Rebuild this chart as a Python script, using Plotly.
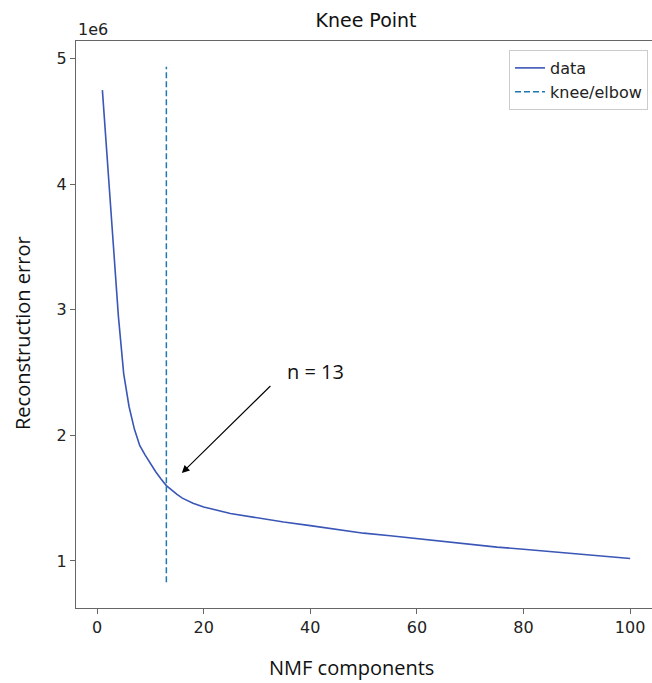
import plotly.graph_objects as go

# Data
components = [1, 2, 3, 4, 5, 6, 7, 8, 9, 10, 11, 12, 13, 15, 16, 18, 20, 25, 30, 35,
              40, 45, 50, 55, 60, 65, 70, 75, 80, 85, 90, 95, 100]
errors = [4.75e6, 4.15e6, 3.55e6, 2.95e6, 2.49e6, 2.23e6, 2.05e6, 1.92e6, 1.845e6, 1.775e6,
          1.71e6, 1.652e6, 1.60e6, 1.53e6, 1.50e6, 1.46e6, 1.43e6, 1.378e6, 1.342e6, 1.31e6,
          1.281e6, 1.248e6, 1.221e6, 1.200e6, 1.178e6, 1.157e6, 1.130e6, 1.110e6, 1.093e6,
          1.075e6, 1.057e6, 1.038e6, 1.019e6]
knee_x = [13, 13]
knee_y = [0.83e6, 4.936e6]
y_tickvals = [1e6, 2e6, 3e6, 4e6, 5e6]
y_ticktext = ["1", "2", "3", "4", "5"]
x_tickvals = [0, 20, 40, 60, 80, 100]

W, H = 652, 683
L, R, T, B = 76, 0, 41, 75

fig = go.Figure()
fig.add_trace(go.Scatter(x=components, y=errors, mode="lines", name="data",
                         line=dict(color="#3a56b6", width=1.6)))
fig.add_trace(go.Scatter(x=knee_x, y=knee_y, mode="lines", name="knee/elbow",
                         line=dict(color="#1f77b4", width=1.5, dash="6px,3px")))

axis_common = dict(showgrid=False, zeroline=False, showline=True, linecolor="#666666",
                   linewidth=1, ticks="outside", ticklen=5, tickcolor="#666666",
                   tickfont=dict(family="DejaVu Sans", size=16, color="#222222"))

fig.update_xaxes(range=[-3.95, 104.1], tickvals=x_tickvals, mirror=True, **axis_common)
fig.update_yaxes(range=[0.625e6, 5.141e6], tickvals=y_tickvals, ticktext=y_ticktext,
                 mirror=False, **axis_common)

plot_w = W - L - R
plot_h = H - T - B

annotations = [
    # x axis title
    dict(text="NMF components", xref="paper", yref="paper",
         x=(351 - L) / plot_w, y=-(667 - (H - B)) / plot_h, xanchor="center", yanchor="middle",
         showarrow=False, font=dict(family="Open Sans", size=20, color="#111111")),
    # y axis title
    dict(text="Reconstruction error", xref="paper", yref="paper",
         x=-(L - 22) / plot_w, y=1 - (333 - T) / plot_h, xanchor="center", yanchor="middle",
         textangle=-90, showarrow=False,
         font=dict(family="Open Sans", size=20, color="#111111")),
    # offset text
    dict(text="1e6", xref="paper", yref="paper", x=0, y=1 + (T - 30) / plot_h,
         xanchor="left", yanchor="middle", showarrow=False,
         font=dict(family="DejaVu Sans", size=16, color="#222222")),
    # knee text
    dict(text="n = 13", xref="x", yref="y", x=35.3, y=2.506e6, xanchor="left",
         yanchor="middle", showarrow=False,
         font=dict(family="Open Sans", size=20, color="#111111")),
    # arrow
    dict(text=" ", xref="x", yref="y", x=15.9, y=1.70e6, axref="x", ayref="y",
         ax=32.8, ay=2.405e6, showarrow=True, arrowhead=2, arrowsize=1.4,
         arrowwidth=1.1, arrowcolor="#000000", font=dict(size=1),
         standoff=0, startstandoff=0),
]

fig.update_layout(
    width=W, height=H,
    margin=dict(l=L, r=R, t=T, b=B, pad=0),
    paper_bgcolor="white", plot_bgcolor="white",
    title=dict(text="Knee Point", x=(366 - L) / plot_w, xref="paper", xanchor="center",
               y=1 - 20 / H, yref="container", yanchor="middle",
               font=dict(family="DejaVu Sans", size=19, color="#111111")),
    showlegend=True,
    legend=dict(x=(648 - L) / plot_w, y=1 - (50 - T) / plot_h, xanchor="right", yanchor="top",
                bordercolor="#cccccc", borderwidth=1, bgcolor="white",
                font=dict(family="DejaVu Sans", size=16, color="#222222"),
                tracegroupgap=0),
    annotations=annotations,
)

fig.write_html("out.html", config={"displayModeBar": False},
               post_script="document.body.style.margin='0';document.body.style.overflow='hidden';")
